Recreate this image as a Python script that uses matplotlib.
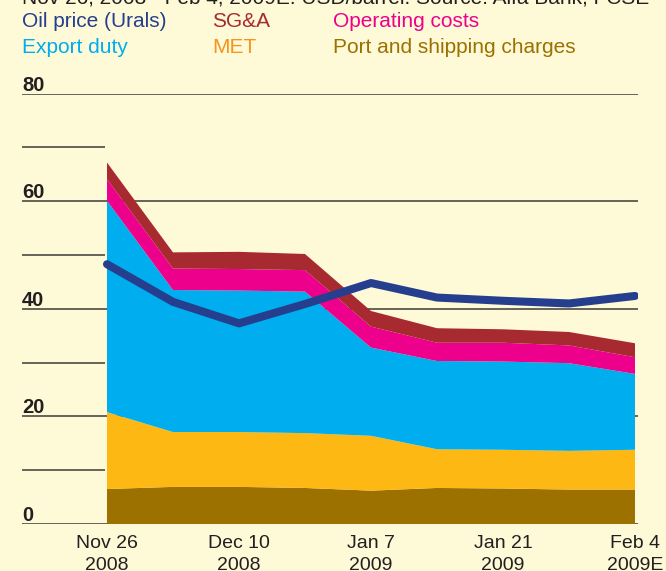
import matplotlib
matplotlib.use("Agg")
import matplotlib.pyplot as plt
import numpy as np

# ---- data (USD/barrel) ----
tick_dates = ["Nov 26", "Dec 10", "Jan 7", "Jan 21", "Feb 4"]
tick_years = ["2008", "2008", "2009", "2009", "2009E"]
tick_index = [0, 2, 4, 6, 8]

port = [6.5, 6.9, 6.9, 6.7, 6.2, 6.7, 6.6, 6.4, 6.4]
met = [14.3, 10.2, 10.2, 10.2, 10.2, 7.2, 7.2, 7.2, 7.4]
export_duty = [39.3, 26.4, 26.3, 26.3, 16.4, 16.4, 16.4, 16.3, 14.1]
op_costs = [4.0, 4.0, 4.0, 4.0, 3.9, 3.4, 3.5, 3.3, 3.1]
sga = [3.1, 3.0, 3.2, 3.0, 2.9, 2.7, 2.5, 2.5, 2.6]
oil = [48.3, 41.3, 37.3, 40.9, 44.8, 42.1, 41.5, 41.0, 42.4]

major_y = [0, 20, 40, 60, 80]
minor_y = [10, 30, 50, 70]

subtitle = "Nov 26, 2008 - Feb 4, 2009E: USD/barrel. Source: Alfa Bank, FCSE"

# ---- colours ----
BG = "#FEF9D7"
C_PORT = "#9C7100"
C_MET = "#FDB813"
C_EXP = "#00ADEE"
C_OPC = "#EC008C"
C_SGA = "#A62A30"
C_OIL = "#253F8E"
C_MET_TXT = "#F7941D"
GRID = "#3C3B37"
TXT = "#231F20"

plt.rcParams["font.family"] = ["Liberation Sans", "DejaVu Sans"]

W, H = 666, 571
fig = plt.figure(figsize=(W / 100, H / 100), dpi=100)
fig.patch.set_facecolor(BG)

x_left_px, x_right_px = 22, 638
y0_px, y80_px = 524, 93.7
ax = fig.add_axes([x_left_px / W, (H - y0_px) / H,
                   (x_right_px - x_left_px) / W, (y0_px - y80_px) / H])
ax.set_facecolor("none")

px_per_step = 66.0
xmin = -(107 - x_left_px) / px_per_step
xmax = 8 + (x_right_px - 635) / px_per_step
ax.set_xlim(xmin, xmax)
ax.set_ylim(0, 80)

x = np.arange(len(port))
ax.stackplot(x, port, met, export_duty, op_costs, sga,
             colors=[C_PORT, C_MET, C_EXP, C_OPC, C_SGA], linewidth=0, zorder=2)
ax.plot(x, oil, color=C_OIL, lw=5.8, solid_capstyle="round",
        solid_joinstyle="round", zorder=5)

for v in major_y:
    ax.axhline(v, color=GRID, lw=1.1, zorder=1)
ax.hlines(minor_y, xmin, -2 / px_per_step, color=GRID, lw=1.1, zorder=1)

for v in major_y:
    ax.annotate(str(v), xy=(xmin, v), xytext=(0, 2.2), textcoords="offset points",
                ha="left", va="baseline", fontsize=14.5, fontweight="bold", color=TXT)

for i, d, yr in zip(tick_index, tick_dates, tick_years):
    ax.annotate(d, xy=(i, 0), xytext=(0, -24.5 / 1.389), textcoords="offset points",
                ha="center", va="baseline", fontsize=14, color=TXT, annotation_clip=False)
    ax.annotate(yr, xy=(i, 0), xytext=(0, -46 / 1.389), textcoords="offset points",
                ha="center", va="baseline", fontsize=14, color=TXT, annotation_clip=False)

ax.set_axis_off()

# ---- header / legend ----
fig.text(22 / W, 1 - 3.5 / H, subtitle, ha="left", va="baseline", fontsize=15, color=TXT)

legend_items = [
    ("Oil price (Urals)", C_OIL, 22, 27),
    ("SG&A", C_SGA, 212, 27),
    ("Operating costs", C_OPC, 333, 27),
    ("Export duty", C_EXP, 22, 53),
    ("MET", C_MET_TXT, 212, 53),
    ("Port and shipping charges", C_PORT, 333, 53),
]
for label, col, px, py in legend_items:
    fig.text(px / W, 1 - py / H, label, ha="left", va="baseline", fontsize=15, color=col)

fig.savefig("out.png", dpi=100, facecolor=BG)
